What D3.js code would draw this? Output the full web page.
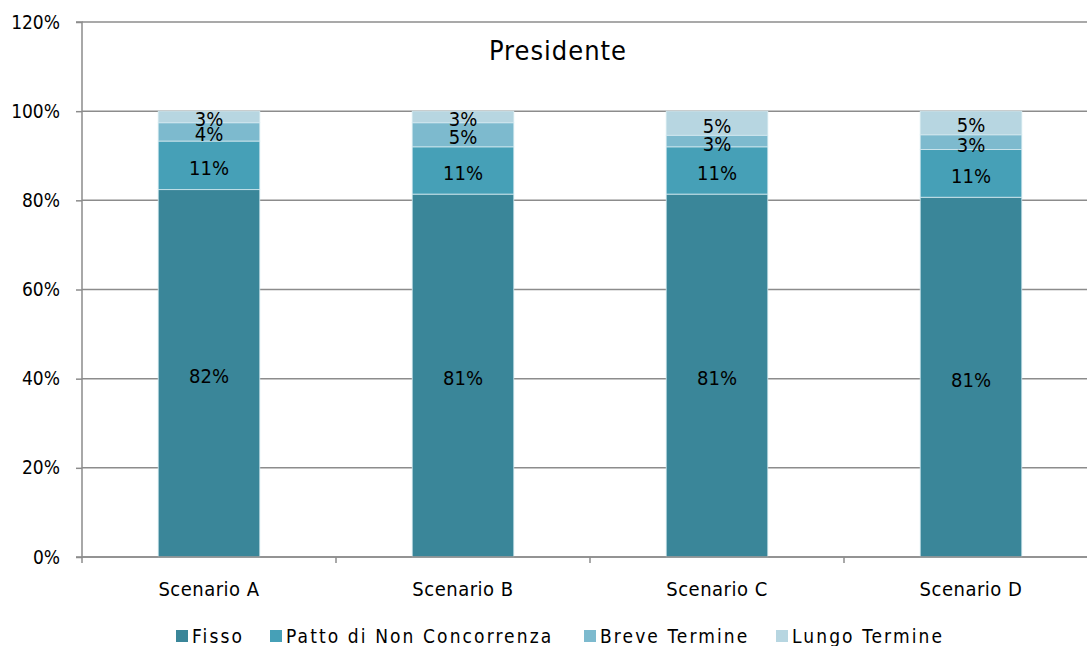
<!DOCTYPE html>
<html>
<head>
<meta charset="utf-8">
<script src="https://cdn.jsdelivr.net/npm/d3@7"></script>
<style>
  html, body { margin: 0; padding: 0; background: #fff; }
  svg { display: block; font-family: "DejaVu Sans Condensed", "DejaVu Sans", sans-serif; }
</style>
</head>
<body>
<svg id="chart" width="1087" height="646"></svg>
<script>
// Categories and stacked shares (percent)
const categories = ["Scenario A", "Scenario B", "Scenario C", "Scenario D"];
const seriesNames = ["Fisso", "Patto di Non Concorrenza", "Breve Termine", "Lungo Termine"];
const fisso = [82.4, 81.4, 81.4, 80.7];
const patto = [10.9, 10.6, 10.6, 10.7];
const breve = [4.1, 5.4, 2.6, 3.3];
const lungo = [2.6, 2.6, 5.4, 5.3];
const yTicks = [0, 20, 40, 60, 80, 100, 120];
const colors = ["#3a8699", "#46a0b7", "#7dbace", "#b7d6e1"];
const title = "Presidente";

const svg = d3.select("#chart");
const margin = { left: 82, right: -11, top: 22, bottom: 89 };
const W = 1087, H = 646;

const x = d3.scaleBand()
  .domain(categories)
  .range([margin.left, W - margin.right])
  .paddingInner(0.6)
  .paddingOuter(0.3);

const y = d3.scaleLinear()
  .domain([0, 120])
  .range([H - margin.bottom, margin.top]);

const gridColor = "#8c8c8c";

// Horizontal gridlines
svg.append("g")
  .selectAll("line")
  .data(yTicks)
  .join("line")
  .attr("x1", margin.left)
  .attr("x2", W)
  .attr("y1", d => y(d))
  .attr("y2", d => y(d))
  .attr("stroke", gridColor)
  .attr("stroke-width", 1.5);

// Rows of the stack, one per category
const rows = categories.map((c, i) => ({
  cat: c,
  "Fisso": fisso[i],
  "Patto di Non Concorrenza": patto[i],
  "Breve Termine": breve[i],
  "Lungo Termine": lungo[i]
}));
const stacked = d3.stack().keys(seriesNames)(rows);

const layers = svg.append("g")
  .selectAll("g")
  .data(stacked)
  .join("g")
  .attr("fill", (d, i) => colors[i]);

layers.selectAll("rect")
  .data(d => d)
  .join("rect")
  .attr("x", d => x(d.data.cat))
  .attr("width", x.bandwidth())
  .attr("y", d => y(d[1]))
  .attr("height", d => y(d[0]) - y(d[1]))
  .attr("stroke", "#d3e8ef")
  .attr("stroke-width", 0.8);

// Value labels centred in each segment
layers.selectAll("text")
  .data(d => d)
  .join("text")
  .attr("x", d => x(d.data.cat) + x.bandwidth() / 2)
  .attr("y", d => (y(d[0]) + y(d[1])) / 2 + 2.5)
  .attr("text-anchor", "middle")
  .attr("dominant-baseline", "central")
  .attr("font-size", 20)
  .attr("fill", "#000")
  .text(d => Math.round(d[1] - d[0]) + "%");

// Y axis
const yAxis = d3.axisLeft(y)
  .tickValues(yTicks)
  .tickFormat(d => d + "%")
  .tickSize(6)
  .tickPadding(16);
const gy = svg.append("g")
  .attr("transform", `translate(${margin.left},0)`)
  .call(yAxis);
gy.select(".domain").attr("stroke", gridColor).attr("stroke-width", 1.5).attr("d", `M-6,${y(120)}H0V${y(0)}H-6`);
gy.selectAll(".tick line").attr("stroke", gridColor).attr("stroke-width", 1.5);
gy.selectAll(".tick text").attr("font-size", 19).attr("fill", "#000")
  .attr("font-family", "DejaVu Sans Condensed, DejaVu Sans, sans-serif");

// X axis: baseline with category boundary ticks
const gx = svg.append("g");
gx.append("line")
  .attr("x1", margin.left).attr("x2", W)
  .attr("y1", y(0)).attr("y2", y(0))
  .attr("stroke", gridColor).attr("stroke-width", 1.5);
const step = x.step();
const boundaries = d3.range(categories.length + 1).map(i => margin.left + i * step);
gx.selectAll("line.b")
  .data(boundaries)
  .join("line")
  .attr("class", "b")
  .attr("x1", d => d).attr("x2", d => d)
  .attr("y1", y(0)).attr("y2", y(0) + 6)
  .attr("stroke", gridColor).attr("stroke-width", 1.5);
gx.selectAll("text")
  .data(categories)
  .join("text")
  .attr("x", d => x(d) + x.bandwidth() / 2)
  .attr("y", y(0) + 39)
  .attr("text-anchor", "middle")
  .attr("font-size", 20)
  .attr("letter-spacing", 0.5)
  .attr("fill", "#000")
  .text(d => d);

// Title
svg.append("text")
  .attr("x", 558)
  .attr("y", 60)
  .attr("text-anchor", "middle")
  .attr("font-size", 27)
  .attr("letter-spacing", 1)
  .attr("fill", "#000")
  .text(title);

// Legend
const legendStarts = [176, 270, 584, 776];
const legend = svg.append("g")
  .selectAll("g")
  .data(seriesNames)
  .join("g")
  .attr("transform", (d, i) => `translate(${legendStarts[i]},630)`);
legend.append("rect")
  .attr("width", 12).attr("height", 12)
  .attr("fill", (d, i) => colors[i]);
legend.append("text")
  .attr("x", 16)
  .attr("y", 12.5)
  .attr("font-size", 19)
  .attr("letter-spacing", 2.1)
  .attr("fill", "#000")
  .text(d => d);
</script>
</body>
</html>
